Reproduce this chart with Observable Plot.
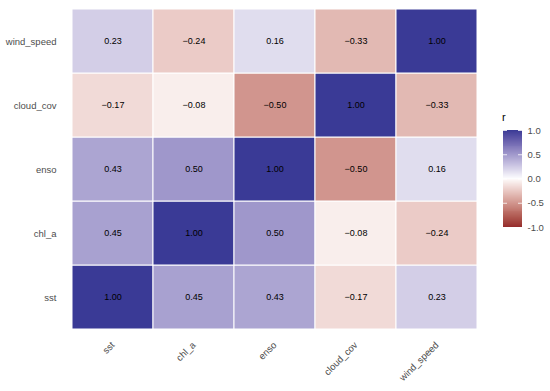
<!DOCTYPE html>
<html>
<head>
<meta charset="utf-8">
<script src="https://cdn.jsdelivr.net/npm/d3@7"></script>
<script src="https://cdn.jsdelivr.net/npm/@observablehq/plot@0.6"></script>
<style>
  html, body { margin: 0; padding: 0; background: white; }
  #wrap { position: relative; width: 550px; height: 391px; font-family: "Liberation Sans", Arial, sans-serif; }
  #legend { position: absolute; left: 490px; top: 100px; }
  #ltitle { position: absolute; left: 502px; top: 112px; font-size: 11px; color: black; line-height: 1; }
</style>
</head>
<body>
<div id="wrap">
  <div id="main"></div>
  <div id="legend"></div>
  <div id="ltitle">r</div>
</div>
<script>
// Variables (x order left->right; y order bottom->top)
const vars = ["sst", "chl_a", "enso", "cloud_cov", "wind_speed"];
// Correlation rows (values across vars order)
const row_sst        = [1.00, 0.45, 0.43, -0.17, 0.23];
const row_chl_a      = [0.45, 1.00, 0.50, -0.08, -0.24];
const row_enso       = [0.43, 0.50, 1.00, -0.50, 0.16];
const row_cloud_cov  = [-0.17, -0.08, -0.50, 1.00, -0.33];
const row_wind_speed = [0.23, -0.24, 0.16, -0.33, 1.00];
const legendTicks = [-1, -0.5, 0, 0.5, 1];

const rows = {sst: row_sst, chl_a: row_chl_a, enso: row_enso, cloud_cov: row_cloud_cov, wind_speed: row_wind_speed};
const table = [];
for (const yv of vars) rows[yv].forEach((r, i) => table.push({x: vars[i], y: yv, r}));

const font = "'Liberation Sans', Arial, sans-serif";
const colorOpts = {type: "linear", domain: [-1, 0, 1], range: ["#952b2b", "#ffffff", "#3a3a96"], interpolate: d3.interpolateLab};
const fmt = d3.format(".2f");

const main = Plot.plot({
  width: 550, height: 391,
  marginLeft: 71, marginRight: 73, marginTop: 7, marginBottom: 60,
  style: {fontFamily: font, fontSize: "9.5px", background: "white", color: "#4d4d4d"},
  x: {domain: vars, padding: 0, label: null},
  y: {domain: vars.slice().reverse(), padding: 0, label: null},
  color: colorOpts,
  marks: [
    Plot.cell(table, {x: "x", y: "y", fill: "r", stroke: "white", strokeWidth: 1}),
    Plot.text(table, {x: "x", y: "y", text: d => fmt(d.r), fill: "black", fontSize: 9}),
    Plot.axisY({tickSize: 0, tickPadding: 15, fill: "#4d4d4d", fontSize: 9.5}),
    Plot.axisX({tickSize: 0, tickRotate: -45, tickPadding: 12, fill: "#4d4d4d", fontSize: 9.5})
  ]
});
document.getElementById("main").appendChild(main);

const steps = d3.range(0, 100).map(i => ({v0: -1 + i * 0.02, v1: -1 + (i + 1) * 0.02}));
const leg = Plot.plot({
  width: 60, height: 140,
  marginTop: 30, marginBottom: 13, marginLeft: 13, marginRight: 28,
  style: {fontFamily: font, fontSize: "9.5px", background: "transparent", color: "#4d4d4d"},
  y: {domain: [-1, 1], label: null},
  color: colorOpts,
  marks: [
    Plot.rect(steps, {y1: "v0", y2: "v1", fill: d => (d.v0 + d.v1) / 2, shapeRendering: "crispEdges"}),
    Plot.tickY(legendTicks, {y: d => d, stroke: "white", strokeOpacity: 0.8, insetRight: 15}),
    Plot.tickY(legendTicks, {y: d => d, stroke: "white", strokeOpacity: 0.8, insetLeft: 15}),
    Plot.axisY(legendTicks, {anchor: "right", tickSize: 0, tickPadding: 5, tickFormat: d => d.toFixed(1), fill: "#4d4d4d", fontSize: 9.5})
  ]
});
document.getElementById("legend").appendChild(leg);
</script>
</body>
</html>
